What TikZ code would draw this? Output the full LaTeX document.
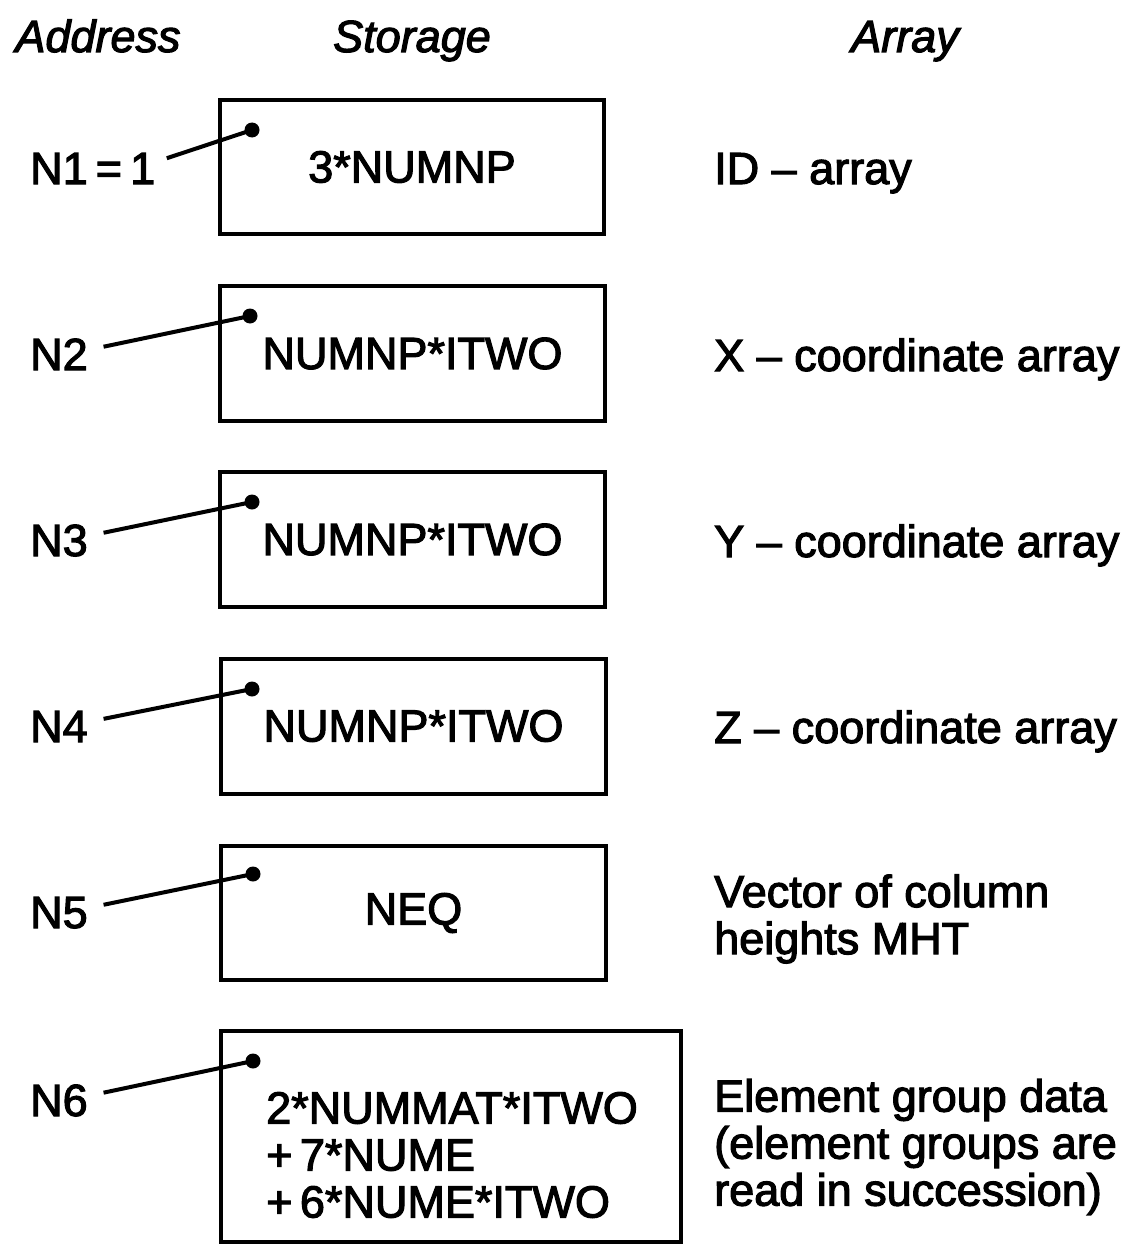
\documentclass[tikz,border=0pt]{standalone}
\usepackage{fontspec}
\setmainfont{Liberation Sans}[FakeBold=2.5,AutoFakeBold=2.5]
\newfontfamily\heavy{Liberation Sans}[FakeBold=2.5]
\begin{document}
\begin{tikzpicture}[x=1pt,y=-1pt,
  txt/.style={font=\heavy\fontsize{45}{47}\selectfont, inner sep=0pt},
  hdr/.style={txt, font=\heavy\fontsize{45}{47}\selectfont\itshape, anchor=base},
  lab/.style={txt, anchor=base west},
  arr/.style={txt, anchor=west, align=left},
  storebox/.style={draw, line width=4pt, inner sep=0pt, font=\heavy\fontsize{45}{47}\selectfont},
  dot/.style={circle, fill, inner sep=0pt, minimum size=15pt},
  conn/.style={line width=4pt, shorten <=16pt}]
\useasboundingbox (0,0) rectangle (1128,1244);
% headers
\node[hdr] (h1) at (98,52) {Address};
\node[hdr] (h2) at (412,52) {Storage};
\node[hdr] (h3) at (905,52) {Array};
% boxes
\node[storebox, minimum width=384pt, minimum height=134pt] (b1) at (412,167) {3*NUMNP};
\node[storebox, minimum width=385pt, minimum height=135pt] (b2) at (412.5,353.5) {NUMNP*ITWO};
\node[storebox, minimum width=385pt, minimum height=135pt] (b3) at (412.5,539.5) {NUMNP*ITWO};
\node[storebox, minimum width=385pt, minimum height=135pt] (b4) at (413.5,726) {NUMNP*ITWO};
\node[storebox, minimum width=385pt, minimum height=134pt] (b5) at (413.5,913) {NEQ};
\node[storebox, minimum width=460pt, minimum height=211pt] (b6) at (451,1136.5) {};
\node[arr] (t6) at (266,1155) {2*NUMMAT*ITWO\\+\,7*NUME\\+\,6*NUME*ITWO};
% dots
\node[dot] (d1) at (252,130) {};
\node[dot] (d2) at (250,316) {};
\node[dot] (d3) at (252,502) {};
\node[dot] (d4) at (252,689) {};
\node[dot] (d5) at (253,874) {};
\node[dot] (d6) at (253,1061) {};
% address labels
\node[lab] (l1) at (30,184) {N1\hspace{0.18em}=\hspace{0.18em}1};
\node[lab] (l2) at (30,370) {N2};
\node[lab] (l3) at (30,556) {N3};
\node[lab] (l4) at (30,742) {N4};
\node[lab] (l5) at (30,928) {N5};
\node[lab] (l6) at (30,1116) {N6};
% connectors
\draw[conn, shorten <=12pt] ([yshift=22pt]l1.base east) -- (d1.center);
\draw[conn] ([yshift=20pt]l2.base east) -- (d2.center);
\draw[conn] ([yshift=20pt]l3.base east) -- (d3.center);
\draw[conn] ([yshift=20pt]l4.base east) -- (d4.center);
\draw[conn] ([yshift=20pt]l5.base east) -- (d5.center);
\draw[conn] ([yshift=20pt]l6.base east) -- (d6.center);
% array descriptions
\node[lab] (a1) at (714,184) {ID – array};
\node[lab] (a2) at (714,371) {X – coordinate array};
\node[lab] (a3) at (714,557) {Y – coordinate array};
\node[lab] (a4) at (714,743) {Z – coordinate array};
\node[arr] (a5) at (714,919) {Vector of column\\heights MHT};
\node[arr] (a6) at (714,1147) {Element group data\\(element groups are\\read in succession)};
\end{tikzpicture}
\end{document}
